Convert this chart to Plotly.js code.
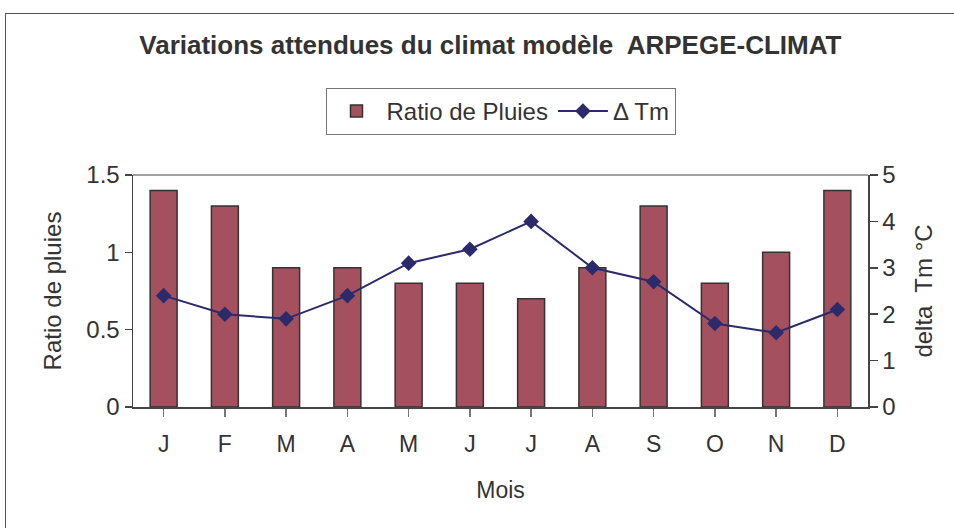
<!DOCTYPE html>
<html><head><meta charset="utf-8">
<script src="https://cdn.plot.ly/plotly-3.0.1.min.js"></script>
<style>
html,body{margin:0;padding:0;background:#fff;overflow:hidden}
#chart{position:absolute;left:0;top:0;width:954px;height:528px}
#frame{position:absolute;left:5px;top:13px;width:1000px;height:600px;border:1.5px solid #555;pointer-events:none}
</style></head>
<body>
<div id="chart"></div>
<div id="frame"></div>
<script>
const months = ["J","F","M","A","M","J","J","A","S","O","N","D"];
const monthIdx = [0,1,2,3,4,5,6,7,8,9,10,11];
const ratioPluies = [1.4,1.3,0.9,0.9,0.8,0.8,0.7,0.9,1.3,0.8,1.0,1.4];
const deltaTm = [2.4,2.0,1.9,2.4,3.1,3.4,4.0,3.0,2.7,1.8,1.6,2.1];

const font = "Liberation Sans, Arial, sans-serif";
const txt = "#333333";
const axc = "#444444";

const traces = [
  {type:"bar", x:monthIdx, y:ratioPluies, name:"Ratio de Pluies",
   marker:{color:"#A5505F", line:{color:"#333333", width:1.5}}, yaxis:"y"},
  {type:"scatter", mode:"lines+markers", x:monthIdx, y:deltaTm, name:"Δ Tm", yaxis:"y2",
   line:{color:"#2B2B6B", width:2}, marker:{symbol:"diamond", size:12, color:"#2B2B6B"}}
];

const layout = {
  width:954, height:528,
  margin:{l:133, r:86, t:175, b:121},
  paper_bgcolor:"#ffffff", plot_bgcolor:"#ffffff",
  font:{family:font, color:txt, size:23},
  title:{text:"<b>Variations attendues du climat modèle  ARPEGE-CLIMAT</b>", x:0.514, xanchor:"center", xref:"container", y:0.915, yanchor:"middle", yref:"container", font:{size:26, color:txt, family:font}},
  bargap:0.56,
  showlegend:true,
  legend:{orientation:"h", x:0.5, xanchor:"center", y:1.375, yanchor:"top", bordercolor:"#777", borderwidth:1, font:{size:24, color:txt}, itemwidth:50, bgcolor:"#fff"},
  xaxis:{tickmode:"array", tickvals:monthIdx, ticktext:months, range:[-0.5,11.5], showgrid:false, zeroline:false,
    showline:true, linecolor:axc, linewidth:1.5, ticks:"outside", tickson:"boundaries", ticklen:8, tickcolor:"#777", tickwidth:1.5,
    ticklabelstandoff:8,
    tickfont:{size:23, color:txt}, title:{text:"Mois", font:{size:23, color:txt}, standoff:26}},
  yaxis:{range:[0,1.5], dtick:0.5, tickmode:"linear", showgrid:false, zeroline:false, showline:true, linecolor:axc, linewidth:1.5,
    ticks:"outside", ticklen:7, tickcolor:axc, tickwidth:1.5, tickfont:{size:24, color:txt},
    title:{text:"Ratio de pluies", font:{size:24, color:txt}, standoff:18}},
  yaxis2:{range:[0,5], dtick:1, tickmode:"linear", overlaying:"y", side:"right", showgrid:false, zeroline:false,
    showline:true, linecolor:axc, linewidth:1.5, ticks:"outside", ticklen:8, tickcolor:axc, tickwidth:1.5, tickfont:{size:24, color:txt},
    title:{text:"delta  Tm °C", font:{size:24, color:txt}, standoff:20}},
  shapes:[{type:"line", xref:"paper", yref:"paper", x0:0, x1:1, y0:1, y1:1, line:{color:"#8a7f7f", width:1.5}}]
};

Plotly.newPlot("chart", traces, layout, {displayModeBar:false, staticPlot:true});
</script>
</body></html>
